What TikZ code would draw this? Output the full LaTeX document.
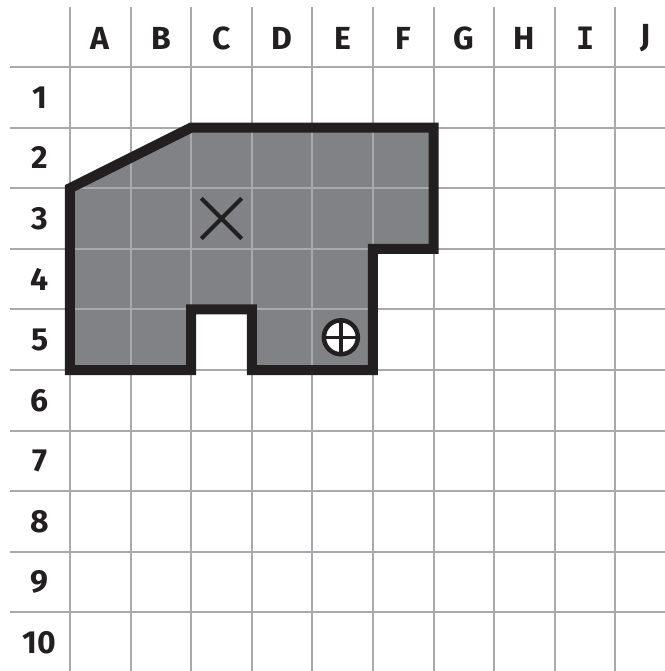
\documentclass[tikz,border=0pt]{standalone}
\usepackage{fontspec}
\setmainfont{Fira Sans}
\newfontfamily\monofont{DejaVu Sans Mono}
\usetikzlibrary{shapes.misc}

\definecolor{gridgray}{HTML}{A7A9AC}
\definecolor{areagray}{HTML}{808285}
\definecolor{inkblack}{HTML}{231F20}

\tikzset{
  gridline/.style={gridgray, line width=0.95pt},
  outline/.style={inkblack, line width=4.7pt},
  headlabel/.style={inkblack, font=\fontsize{15}{18}\selectfont\bfseries, inner sep=0pt},
}

\begin{document}
\begin{tikzpicture}[y=-1cm]
        \useasboundingbox (-1.155,-1.106) rectangle (9.818,9.967);
        % ==== SHADED AREA ====
        \fill[areagray] (0,2) -- (2,1) -- (6,1) -- (6,3) -- (5,3) -- (5,5)
            -- (3,5) -- (3,4) -- (2,4) -- (2,5) -- (0,5) -- cycle;

        % ==== GRID ====
        \foreach \i in {0,...,9} {
            \draw[gridline] (\i,-0.99) -- (\i,9.967);
            \draw[gridline] (-0.99,\i) -- (9.818,\i);
        }

        % ==== LABELS ====
        \foreach \c [count=\i from 0] in {A,B,C,D,E,F,G,H}
            \node[headlabel] (col\c) at (\i+0.5,-0.47) {\c};
        \node[headlabel, font=\fontsize{14.5}{18}\selectfont\monofont\bfseries]
            (colI) at (8.5,-0.47) {I};
        \node[headlabel] (colJ) at (9.5,-0.47) {J};
        \foreach \r in {1,...,10}
            \node[headlabel] (row\r) at (-0.5,\r-0.5) {\r};

        % ==== OUTLINE ====
        \draw[outline] (0,2) -- (2,1) -- (6,1) -- (6,3) -- (5,3) -- (5,5)
            -- (3,5) -- (3,4) -- (2,4) -- (2,5) -- (0,5) -- cycle;

        % ==== MARKERS ====
        \node[cross out, draw=inkblack, line width=1.9pt, minimum size=0.6cm,
            inner sep=0pt] (centre) at (2.5,2.5) {};
        \node[circle, draw=inkblack, fill=white, line width=2.1pt,
            minimum size=0.56cm, inner sep=0pt] (target) at (4.47,4.46) {};
        \draw[inkblack, line width=1.6pt] (target.north) -- (target.south);
        \draw[inkblack, line width=1.6pt] (target.west) -- (target.east);
\end{tikzpicture}
\end{document}
